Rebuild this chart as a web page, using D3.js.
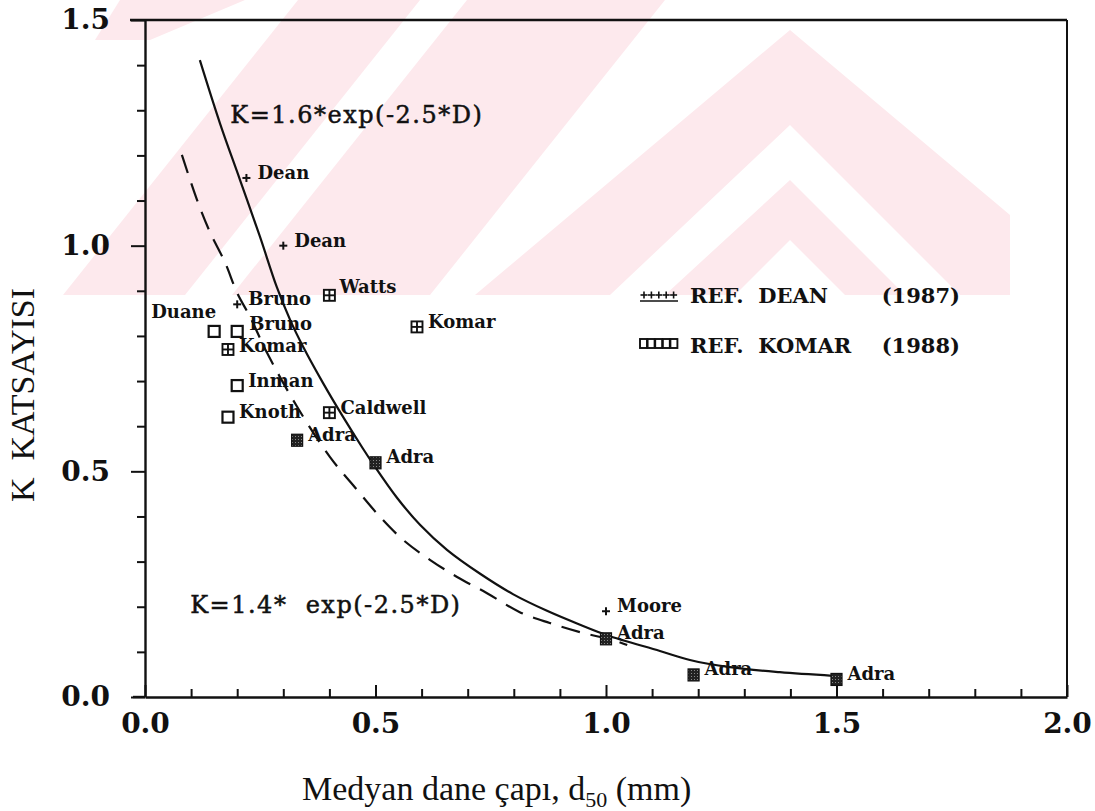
<!DOCTYPE html>
<html>
<head>
<meta charset="utf-8">
<script src="https://cdn.jsdelivr.net/npm/d3@7/dist/d3.min.js"></script>
<style>
  body { margin: 0; background: #fff; }
  svg { display: block; }
</style>
</head>
<body>
<svg id="chart" width="1095" height="811"></svg>
<script>
// ---------------------------------------------------------------------------
// Data (D = median grain size in mm, K = coefficient)

// REF. DEAN (1987) - crosses
const deanPoints = [
  { name: 'Dean', d: 0.22, k: 1.15 },
  { name: 'Dean', d: 0.30, k: 1.00 },
  { name: 'Bruno', d: 0.20, k: 0.87 },
  { name: 'Moore', d: 1.00, k: 0.19 },
];
// REF. KOMAR (1988) - open squares
const komarOpen = [
  { name: 'Duane', d: 0.15, k: 0.81 },
  { name: 'Bruno', d: 0.20, k: 0.81 },
  { name: 'Inman', d: 0.20, k: 0.69 },
  { name: 'Knoth', d: 0.18, k: 0.62 },
];
// both references - crossed squares
const komarCrossed = [
  { name: 'Komar', d: 0.18, k: 0.77 },
  { name: 'Watts', d: 0.40, k: 0.89 },
  { name: 'Komar', d: 0.59, k: 0.82 },
  { name: 'Caldwell', d: 0.40, k: 0.63 },
];
// Adra measurements - filled squares
const adraPoints = [
  { name: 'Adra', d: 0.33, k: 0.57 },
  { name: 'Adra', d: 0.50, k: 0.52 },
  { name: 'Adra', d: 1.00, k: 0.13 },
  { name: 'Adra', d: 1.19, k: 0.05 },
  { name: 'Adra', d: 1.50, k: 0.04 },
];

// Fitted curves as traced on the figure [D, K]
const solidCurve = [
  [0.119, 1.411], [0.163, 1.270], [0.206, 1.146], [0.249, 1.021],
  [0.286, 0.908], [0.315, 0.835], [0.343, 0.776], [0.386, 0.696],
  [0.430, 0.620], [0.473, 0.550], [0.495, 0.516], [0.547, 0.441],
  [0.597, 0.381], [0.655, 0.326], [0.727, 0.273], [0.798, 0.228],
  [0.872, 0.191], [0.944, 0.160], [1.002, 0.137], [1.117, 0.102],
  [1.182, 0.082], [1.269, 0.066], [1.377, 0.055], [1.492, 0.047],
];
const dashedCurve = [
  [0.080, 1.201], [0.113, 1.101], [0.141, 1.030], [0.174, 0.962],
  [0.200, 0.895], [0.228, 0.842], [0.265, 0.762], [0.330, 0.643],
  [0.401, 0.532], [0.460, 0.459], [0.510, 0.399], [0.560, 0.348],
  [0.618, 0.304], [0.677, 0.266], [0.742, 0.230], [0.813, 0.188],
  [0.878, 0.164], [0.950, 0.142], [1.015, 0.126], [1.046, 0.115],
];

// Axis settings
const xDomain = [0, 2];
const yDomain = [0, 1.5];
const xTicks = d3.range(0, 21).map((i) => i / 10);
const yTicks = d3.range(0, 16).map((i) => i / 10);
const majorStep = 0.5;

// Texts
const yTitle = 'K  KATSAYISI';
const xTitle = ['Medyan dane çapı, d', '50', ' (mm)'];
const solidLabel = { text: 'K=1.6*exp(-2.5*D)', d: 0.185, k: 1.272 };
const dashedLabel = { text: 'K=1.4*  exp(-2.5*D)', d: 0.098, k: 0.186 };
const legendRows = [
  { symbol: 'plus', ref: 'REF.  DEAN', year: '(1987)' },
  { symbol: 'box', ref: 'REF.  KOMAR', year: '(1988)' },
];

// ---------------------------------------------------------------------------
// Layout / styles

const plot = { left: 145, right: 1067, top: 20, bottom: 697 };
const markFont = 'DejaVu Serif, serif';
const titleFont = 'Liberation Serif, Times New Roman, serif';
const ink = '#111';
const pink = '#fde9ed';

// label placement overrides, keyed "name:k" (default: right of marker)
const labelPlace = {
  'Duane:0.81': { dx: 2, dy: -13, anchor: 'end' },
  'Bruno:0.81': { dx: 12, dy: -1, anchor: 'start' },
  'Komar:0.77': { dx: 11, dy: 3, anchor: 'start' },
  'Watts:0.89': { dx: 10, dy: -2, anchor: 'start' },
};
const defaultPlace = { dx: 11, dy: 1, anchor: 'start' };
const placeOf = (d) => labelPlace[`${d.name}:${d.k}`] || defaultPlace;

const svg = d3.select('#chart');

const x = d3.scaleLinear().domain(xDomain).range([plot.left, plot.right]);
const y = d3.scaleLinear().domain(yDomain).range([plot.bottom, plot.top]);
const isMajor = (v) => Math.abs(v / majorStep - Math.round(v / majorStep)) < 1e-6;

// --------------------------------------------------------------------------
// Scanner watermark (light pink stripes/chevrons in the upper part of the page)

const wm = svg.append('g').attr('id', 'watermark');
wm.append('clipPath')
  .attr('id', 'wm-clip')
  .append('rect')
  .attr('x', 0)
  .attr('y', 0)
  .attr('width', 1010)
  .attr('height', 295);
const wmPink = [
  // slanted "/" bands on the left
  [[63, 295], [185, 295], [420, 0], [298, 0]],
  [[232, 295], [430, 295], [665, 0], [467, 0]],
  [[120, 0], [245, 0], [150, 40], [95, 40]],
  // big chevron on the right
  [[475, 295], [790, 30], [1010, 215], [1010, 295]],
];
const wmWhite = [
  // white chevron stripes inside the big one
  [[610, 295], [790, 125], [960, 295], [905, 295], [790, 180], [665, 295]],
  [[735, 295], [790, 240], [845, 295]],
];
const wmg = wm.append('g').attr('clip-path', 'url(#wm-clip)');
wmg.selectAll('polygon.p')
  .data(wmPink)
  .enter()
  .append('polygon')
  .attr('class', 'p')
  .attr('points', (d) => d.map((p) => p.join(',')).join(' '))
  .attr('fill', pink);
wmg.selectAll('polygon.w')
  .data(wmWhite)
  .enter()
  .append('polygon')
  .attr('class', 'w')
  .attr('points', (d) => d.map((p) => p.join(',')).join(' '))
  .attr('fill', '#fff');

// --------------------------------------------------------------------------
// Axes

const xAxis = svg
  .append('g')
  .attr('transform', `translate(0,${plot.bottom})`)
  .call(
    d3.axisBottom(x)
      .tickValues(xTicks)
      .tickSizeInner(-8)
      .tickSizeOuter(0)
      .tickPadding(16)
      .tickFormat((d) => (isMajor(d) ? d3.format('.1f')(d) : ''))
  );
xAxis.selectAll('line').filter((d) => isMajor(d)).attr('y2', -12);

const yAxis = svg
  .append('g')
  .attr('transform', `translate(${plot.left},0)`)
  .call(
    d3.axisLeft(y)
      .tickValues(yTicks)
      .tickSizeInner(8)
      .tickSizeOuter(0)
      .tickPadding(27)
      .tickFormat((d) => (isMajor(d) ? d3.format('.1f')(d) : ''))
  );
yAxis.selectAll('line').filter((d) => isMajor(d)).attr('x2', -14);

[xAxis, yAxis].forEach((ax) => {
  ax.select('.domain').attr('stroke', ink).attr('stroke-width', 2.4);
  ax.selectAll('line').attr('stroke', ink).attr('stroke-width', 2);
  ax.selectAll('text')
    .attr('fill', ink)
    .attr('font-family', markFont)
    .attr('font-weight', 'bold')
    .attr('font-size', 28);
});

// frame: top and right edges, bottom line runs a bit left of the axis
const frame = svg.append('g').attr('stroke', ink).attr('fill', 'none');
frame.append('line')
  .attr('x1', x(xDomain[0]) - 15).attr('x2', x(xDomain[1]))
  .attr('y1', y(yDomain[1])).attr('y2', y(yDomain[1]))
  .attr('stroke-width', 2.4);
frame.append('line')
  .attr('x1', x(xDomain[1])).attr('x2', x(xDomain[1]))
  .attr('y1', y(yDomain[1])).attr('y2', y(yDomain[0]))
  .attr('stroke-width', 2);
frame.append('line')
  .attr('x1', x(xDomain[0]) - 12).attr('x2', x(xDomain[0]))
  .attr('y1', y(yDomain[0])).attr('y2', y(yDomain[0]))
  .attr('stroke-width', 2.4);

// Axis titles
svg.append('text')
  .attr('transform', `translate(34,395) rotate(-90)`)
  .attr('text-anchor', 'middle')
  .attr('font-family', titleFont)
  .attr('font-size', 34)
  .style('white-space', 'pre')
  .attr('fill', ink)
  .text(yTitle);

const xt = svg.append('text')
  .attr('x', 302)
  .attr('y', 800)
  .attr('font-family', titleFont)
  .attr('font-size', 34)
  .attr('fill', ink);
xt.append('tspan').text(xTitle[0]);
xt.append('tspan').attr('font-size', 22).attr('dy', 7).text(xTitle[1]);
xt.append('tspan').attr('dy', -7).text(xTitle[2]);

// --------------------------------------------------------------------------
// Curves

const line = d3
  .line()
  .x((d) => x(d[0]))
  .y((d) => y(d[1]))
  .curve(d3.curveCatmullRom.alpha(0.5));

svg.append('path')
  .datum(solidCurve)
  .attr('d', line)
  .attr('fill', 'none')
  .attr('stroke', ink)
  .attr('stroke-width', 2.2);

svg.append('path')
  .datum(dashedCurve)
  .attr('d', line)
  .attr('fill', 'none')
  .attr('stroke', ink)
  .attr('stroke-width', 2.2)
  .attr('stroke-dasharray', '19,11');

// Curve labels
svg.selectAll('text.curve-label')
  .data([solidLabel, dashedLabel])
  .enter()
  .append('text')
  .attr('class', 'curve-label')
  .attr('x', (d) => x(d.d))
  .attr('y', (d) => y(d.k))
  .attr('font-family', markFont)
  .attr('font-size', 24)
  .attr('letter-spacing', 1.5)
  .attr('fill', ink)
  .attr('stroke', ink)
  .attr('stroke-width', 0.5)
  .style('white-space', 'pre')
  .text((d) => d.text);

// --------------------------------------------------------------------------
// Markers

const marks = svg.append('g').attr('id', 'marks');

function drawPlus(g, cx, cy, r) {
  g.append('line')
    .attr('x1', cx - r).attr('x2', cx + r).attr('y1', cy).attr('y2', cy);
  g.append('line')
    .attr('x1', cx).attr('x2', cx).attr('y1', cy - r).attr('y2', cy + r);
}

// Dean crosses
marks.append('g')
  .attr('stroke', ink)
  .attr('stroke-width', 2)
  .selectAll('g')
  .data(deanPoints)
  .enter()
  .append('g')
  .each(function (d) {
    drawPlus(d3.select(this), x(d.d), y(d.k), 4);
  });

// open squares
const sq = 11;
marks.append('g')
  .selectAll('rect')
  .data(komarOpen)
  .enter()
  .append('rect')
  .attr('x', (d) => x(d.d) - sq / 2)
  .attr('y', (d) => y(d.k) - sq / 2)
  .attr('width', sq)
  .attr('height', sq)
  .attr('fill', '#fff')
  .attr('stroke', ink)
  .attr('stroke-width', 2.2);

// crossed squares
marks.append('g')
  .selectAll('g')
  .data(komarCrossed)
  .enter()
  .append('g')
  .attr('stroke', ink)
  .attr('stroke-width', 1.9)
  .each(function (d) {
    const g = d3.select(this);
    g.append('rect')
      .attr('x', x(d.d) - sq / 2)
      .attr('y', y(d.k) - sq / 2)
      .attr('width', sq)
      .attr('height', sq)
      .attr('fill', '#fff');
    drawPlus(g, x(d.d), y(d.k), sq / 2);
  });

// Adra filled squares (stippled in the print)
const stipple = svg.append('defs')
  .append('pattern')
  .attr('id', 'stipple')
  .attr('width', 3)
  .attr('height', 3)
  .attr('patternUnits', 'userSpaceOnUse');
stipple.append('rect').attr('width', 3).attr('height', 3).attr('fill', '#222');
stipple.append('rect').attr('x', 1).attr('y', 1).attr('width', 1).attr('height', 1).attr('fill', '#888');

marks.append('g')
  .selectAll('rect')
  .data(adraPoints)
  .enter()
  .append('rect')
  .attr('x', (d) => x(d.d) - sq / 2)
  .attr('y', (d) => y(d.k) - sq / 2)
  .attr('width', sq)
  .attr('height', sq + 1)
  .attr('fill', 'url(#stipple)')
  .attr('stroke', ink)
  .attr('stroke-width', 1.2);

// Point labels
const allPoints = [].concat(deanPoints, komarOpen, komarCrossed, adraPoints);
marks.append('g')
  .selectAll('text')
  .data(allPoints)
  .enter()
  .append('text')
  .attr('x', (d) => x(d.d) + placeOf(d).dx)
  .attr('y', (d) => y(d.k) + placeOf(d).dy)
  .attr('text-anchor', (d) => placeOf(d).anchor)
  .attr('font-family', markFont)
  .attr('font-weight', 'bold')
  .attr('font-size', 18)
  .attr('fill', ink)
  .text((d) => d.name);

// --------------------------------------------------------------------------
// Legend

const legend = svg.append('g').attr('transform', 'translate(640,0)');
legendRows.forEach((row, i) => {
  const ly = 301 + i * 50;
  const g = legend.append('g');
  if (row.symbol === 'plus') {
    const pg = g.append('g').attr('stroke', ink).attr('stroke-width', 1.6);
    d3.range(5).forEach((j) => drawPlus(pg, 4 + j * 7.4, ly - 6, 3.5));
    pg.append('line').attr('x1', 0).attr('x2', 38).attr('y1', ly).attr('y2', ly);
  } else {
    g.append('g')
      .selectAll('rect')
      .data(d3.range(5))
      .enter()
      .append('rect')
      .attr('x', (j) => j * 7.6)
      .attr('y', ly - 12)
      .attr('width', 7)
      .attr('height', 9)
      .attr('fill', 'none')
      .attr('stroke', ink)
      .attr('stroke-width', 1.9);
  }
  g.append('text')
    .attr('x', 50)
    .attr('y', ly + 2)
    .attr('font-family', markFont)
    .attr('font-weight', 'bold')
    .attr('font-size', 21)
    .style('white-space', 'pre')
    .attr('fill', ink)
    .text(row.ref);
  g.append('text')
    .attr('x', 320)
    .attr('y', ly + 2)
    .attr('text-anchor', 'end')
    .attr('font-family', markFont)
    .attr('font-weight', 'bold')
    .attr('font-size', 21)
    .attr('fill', ink)
    .text(row.year);
});
</script>
</body>
</html>
